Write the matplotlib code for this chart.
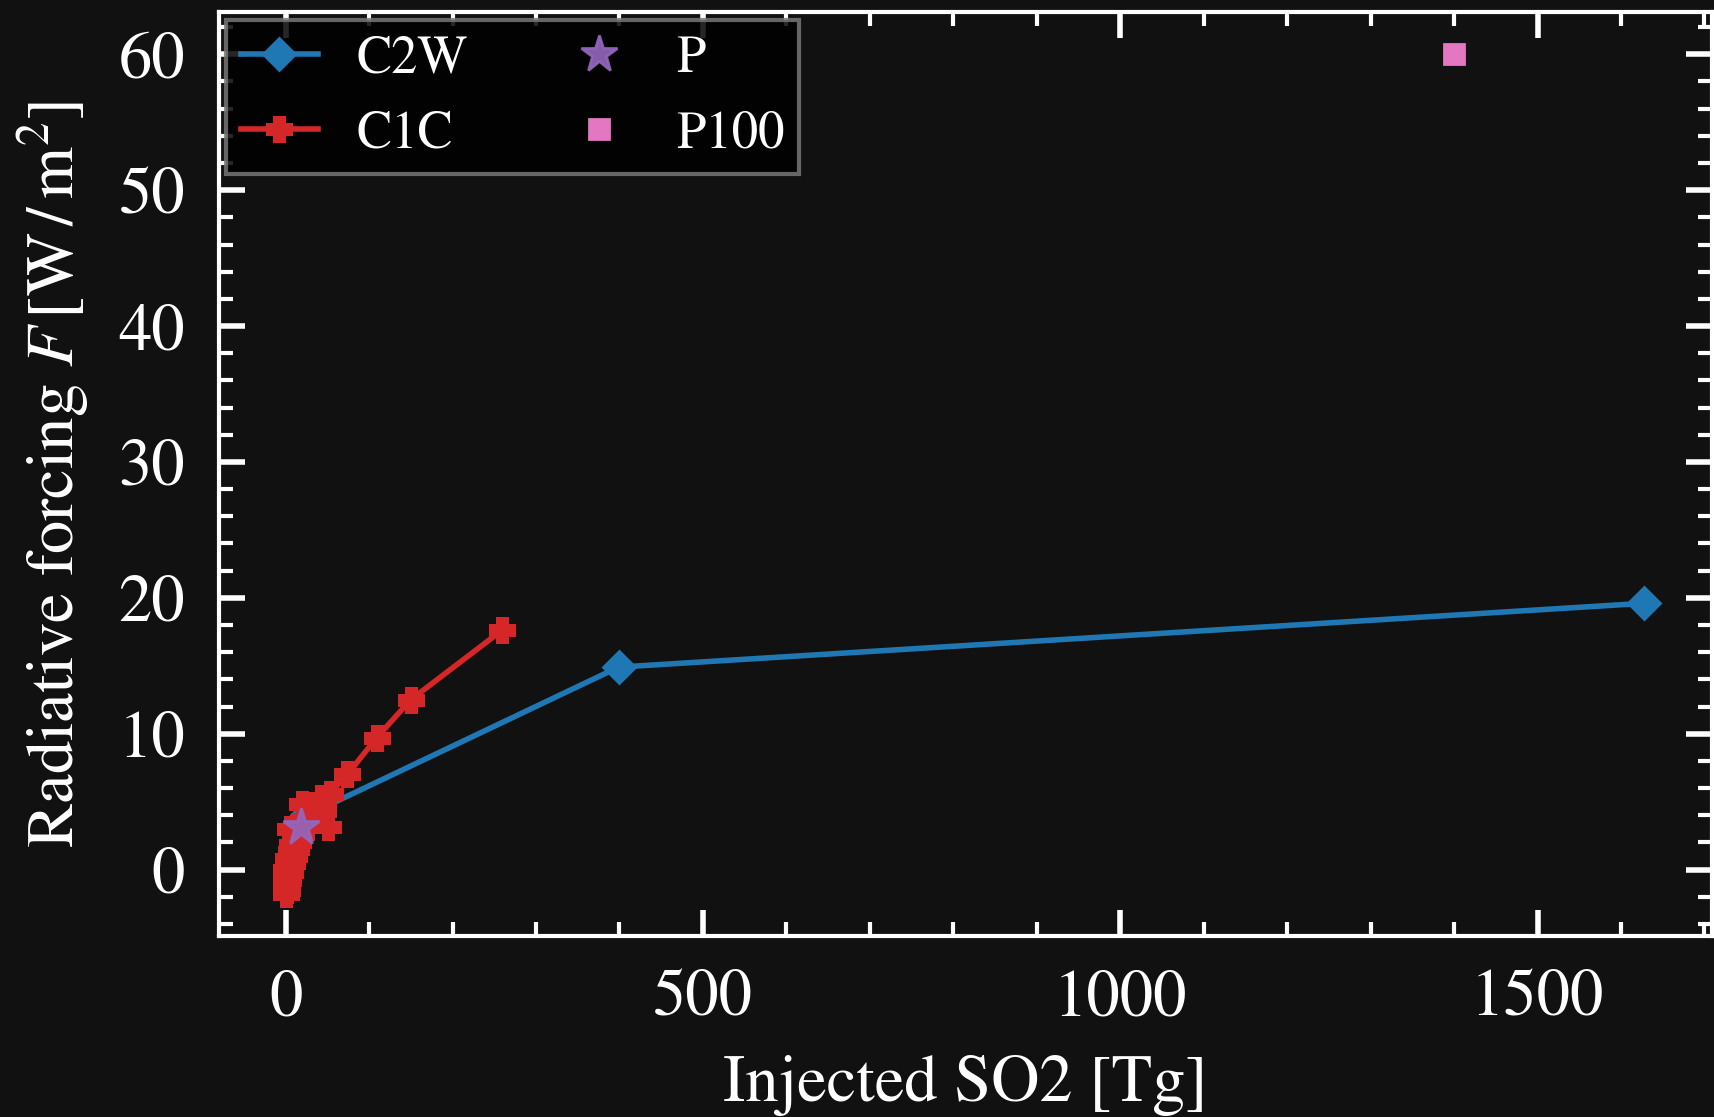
import matplotlib
matplotlib.use('Agg')
import matplotlib.pyplot as plt
from matplotlib.ticker import MultipleLocator

# C2W series
c2w_so2 = [26, 399, 1628]
c2w_forcing = [4.0, 14.9, 19.6]

# C1C series (dense near the origin)
c1c_so2 = [1, 2, 1, 3, 2, 5, 1, 4, 8, 3, 10, 6, 12, 8, 15, 11, 18, 5, 14,
           22, 30, 20, 45, 51, 43, 53, 74, 109, 150, 259]
c1c_forcing = [-1.8, -1.5, -1.0, -0.8, -0.4, -0.2, 0.0, 0.3, 0.5, 0.8, 1.0,
               1.3, 1.5, 1.8, 2.0, 2.3, 2.6, 3.0, 3.2, 3.5, 3.7, 4.8, 4.3,
               3.1, 5.3, 5.6, 7.0, 9.7, 12.5, 17.6]

# single points
p_so2, p_forcing = [18], [3.1]
p100_so2, p100_forcing = [1400], [60]

BG = '#111111'
plt.rcParams['font.family'] = ['STIXGeneral', 'Liberation Serif', 'DejaVu Serif']
plt.rcParams['mathtext.fontset'] = 'stix'
plt.rcParams['font.size'] = 24

fig = plt.figure(figsize=(8.57, 5.585), dpi=200, facecolor=BG)
ax = fig.add_axes([0.1275, 0.162, 0.8715, 0.827])
ax.set_facecolor(BG)

ax.plot(c2w_so2, c2w_forcing, color='#1f77b4', marker='D', markersize=8, lw=2.0, label='C2W')
ax.plot(c1c_so2, c1c_forcing, color='#d62728', marker='P', markersize=8, mew=1.8, lw=2.0, label='C1C')
ax.plot(p_so2, p_forcing, ls='none', color='#9467bd', marker='*', markersize=14, alpha=0.9, label='P')
ax.plot(p100_so2, p100_forcing, ls='none', color='#e377c2', marker='s', markersize=7.5, label='P100')

ax.set_xlabel('Injected SO2 [Tg]', color='white', labelpad=9)
ax.set_ylabel(r'Radiative forcing $F\,[\mathrm{W}\,/\,\mathrm{m}^2]$', color='white', labelpad=10)

ax.xaxis.set_major_locator(MultipleLocator(500))
ax.xaxis.set_minor_locator(MultipleLocator(100))
ax.yaxis.set_major_locator(MultipleLocator(10))
ax.yaxis.set_minor_locator(MultipleLocator(2))
ax.tick_params(which='both', direction='in', top=True, right=True, colors='white')
ax.tick_params(which='major', length=9.5, width=2, pad=12)
ax.tick_params(which='minor', length=5, width=1.5)
for s in ax.spines.values():
    s.set_color('white')
    s.set_linewidth(1.5)

leg = ax.legend(ncol=2, loc='upper left', fontsize=19, handlelength=1.45, handletextpad=0.74,
                columnspacing=1.75, labelspacing=0.5, borderpad=0.28, fancybox=False,
                facecolor='black', edgecolor='#777777', framealpha=0.85, borderaxespad=0.15)
for t in leg.get_texts():
    t.set_color('white')
leg.get_frame().set_linewidth(1.5)

fig.savefig('out.png', facecolor=BG)
